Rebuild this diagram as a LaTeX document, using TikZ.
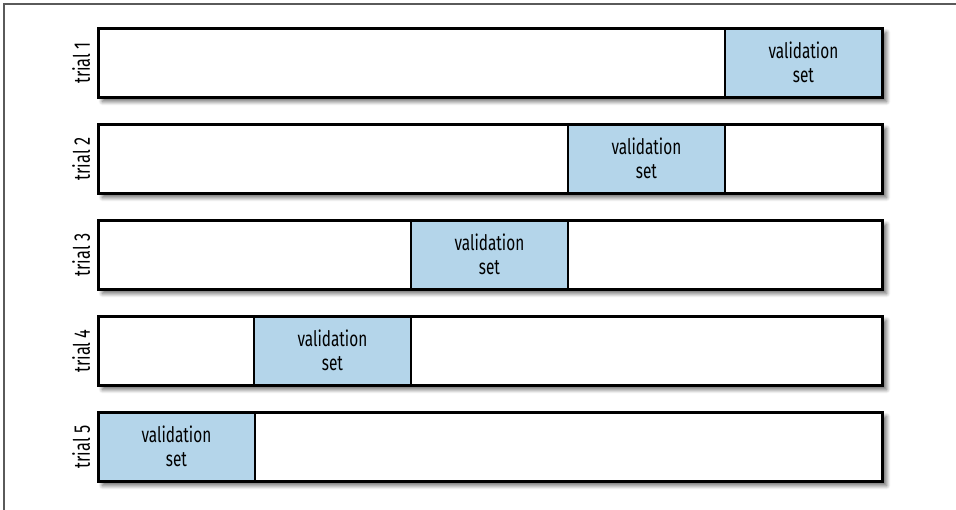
\documentclass[tikz,border=0pt]{standalone}
\usepackage{fontspec}
\setmainfont{Fira Sans}[FakeStretch=0.72]
\usetikzlibrary{shadows.blur}
\definecolor{valblue}{RGB}{180,213,234}
\definecolor{framegray}{RGB}{90,90,90}
\begin{document}
\begin{tikzpicture}[x=0.75pt,y=-0.75pt,
  rowbox/.style={draw=black, fill=white, line width=2.25pt, minimum width=588pt, minimum height=51.75pt, inner sep=0pt, anchor=north west,
    blur shadow={shadow xshift=3pt, shadow yshift=-3pt, shadow blur steps=8, shadow opacity=60, shadow blur radius=3pt}},
  rowedge/.style={draw=black, line width=2.25pt, minimum width=588pt, minimum height=51.75pt, inner sep=0pt, anchor=north west},
  valbox/.style={draw=black, fill=valblue, line width=1.5pt, minimum width=117.6pt, minimum height=51.75pt, inner sep=0pt, anchor=north west,
    align=center, font=\fontsize{16}{18}\selectfont},
  triallabel/.style={rotate=90, anchor=south, inner sep=0pt, font=\fontsize{17}{19}\selectfont},
  frameline/.style={draw=framegray, line width=0.8pt}]
\useasboundingbox (0,0) rectangle (956,510);
\coordinate (fa) at (4,510);
\coordinate (fb) at (4,4);
\coordinate (fc) at (956,4);
\draw[frameline] (fa) -- (fb) -- (fc);
\foreach \i/\vx in {1/724,2/567,3/410,4/253,5/97} {
  \pgfmathsetmacro{\ty}{27+96*(\i-1)}
  \node[rowbox] (r\i) at (97,\ty) {};
  \node[valbox] (v\i) at (\vx,\ty) {validation\\set};
  \node[rowedge] (e\i) at (97,\ty) {};
  \node[triallabel] (t\i) at ([xshift=-5pt]r\i.west) {trial \i};
}
\end{tikzpicture}
\end{document}
